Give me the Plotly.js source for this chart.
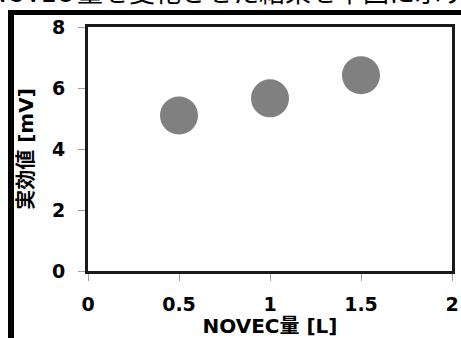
<!DOCTYPE html>
<html>
<head>
<meta charset="utf-8">
<script src="https://cdn.plot.ly/plotly-3.0.1.min.js"></script>
<style>
html,body{margin:0;padding:0;background:#fff;overflow:hidden;}
#chart{width:461px;height:338px;}
</style>
</head>
<body>
<div id="chart"></div>
<script>
// Data
var novecAmount = [0.5, 1, 1.5];
var rmsValue = [5.1, 5.66, 6.42];
var xTickVals = [0, 0.5, 1, 1.5, 2];
var xTickText = ["0", "0.5", "1", "1.5", "2"];
var yTickVals = [0, 2, 4, 6, 8];
var yTickText = ["0", "2", "4", "6", "8"];
var xTitle = "NOVEC量 [L]";
var yTitle = "実効値 [mV]";
var headPre = "NOVEC";
var headText = "量を変化させた結果を下図に示す。";

var W = 461, H = 338;
var L = 88, R = 9, T = 27, B = 67;
var pw = W - L - R, ph = H - T - B;
function px(x){ return (x - L) / pw; }
function py(y){ return (H - B - y) / ph; }

var tickFont = {family: "DejaVu Sans, Verdana, sans-serif", size: 19, color: "#000", weight: "bold"};
var titleFont = {family: "DejaVu Sans, Noto Sans CJK JP, sans-serif", size: 20, color: "#000", weight: "bold"};

var trace = {
  x: novecAmount,
  y: rmsValue,
  type: "scatter",
  mode: "markers",
  marker: {size: 38, color: "#808080", line: {width: 0}},
  hoverinfo: "none",
  cliponaxis: false
};

var layout = {
  width: W, height: H,
  margin: {l: L, r: R, t: T, b: B, pad: 0},
  paper_bgcolor: "#fff",
  plot_bgcolor: "#fff",
  showlegend: false,
  xaxis: {
    range: [0, 2],
    tickvals: xTickVals, ticktext: xTickText,
    ticks: "outside", ticklen: 7, tickwidth: 1, tickcolor: "#a0a0a0",
    showgrid: false, zeroline: false,
    showline: true, linecolor: "#1a1a1a", linewidth: 3, mirror: true,
    tickfont: tickFont,
    ticklabelstandoff: 7,
    title: {text: xTitle, font: titleFont, standoff: 1}
  },
  yaxis: {
    range: [0, 8],
    tickvals: yTickVals, ticktext: yTickText,
    ticks: "outside", ticklen: 7, tickwidth: 1, tickcolor: "#a0a0a0",
    showgrid: false, zeroline: false,
    showline: true, linecolor: "#1a1a1a", linewidth: 3, mirror: true,
    tickfont: tickFont,
    ticklabelstandoff: 9,
    title: {text: yTitle, font: titleFont, standoff: 13}
  },
  shapes: [
    {type: "line", xref: "paper", yref: "paper", x0: px(11), x1: px(11), y0: py(10), y1: py(345), line: {color: "#000", width: 6}},
    {type: "line", xref: "paper", yref: "paper", x0: px(8), x1: px(470), y0: py(12.5), y1: py(12.5), line: {color: "#000", width: 5}}
  ],
  annotations: [
    {xref: "paper", yref: "paper", x: px(75), y: py(-10), xanchor: "left", yanchor: "middle", showarrow: false,
     text: headText, font: {family: "Noto Sans CJK JP, sans-serif", size: 26, color: "#000"}},
    {xref: "paper", yref: "paper", x: px(75), y: py(-10), xanchor: "right", yanchor: "middle", showarrow: false,
     text: headPre, font: {family: "Noto Sans CJK JP, sans-serif", size: 26, color: "#000"}}
  ]
};

Plotly.newPlot("chart", [trace], layout, {staticPlot: true, displayModeBar: false});
</script>
</body>
</html>
